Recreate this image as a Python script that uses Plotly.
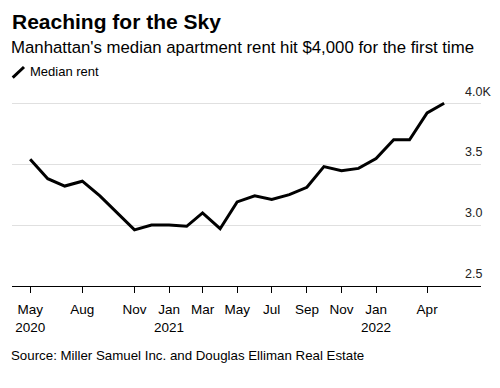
import plotly.graph_objects as go

# Data (monthly, first of month)
months = ["2020-05-01", "2020-06-01", "2020-07-01", "2020-08-01", "2020-09-01",
          "2020-10-01", "2020-11-01", "2020-12-01", "2021-01-01", "2021-02-01",
          "2021-03-01", "2021-04-01", "2021-05-01", "2021-06-01", "2021-07-01",
          "2021-08-01", "2021-09-01", "2021-10-01", "2021-11-01", "2021-12-01",
          "2022-01-01", "2022-02-01", "2022-03-01", "2022-04-01", "2022-05-01"]
median_rent_k = [3.54, 3.38, 3.32, 3.36, 3.24,
                 3.10, 2.96, 3.00, 3.00, 2.99,
                 3.10, 2.97, 3.19, 3.24, 3.21,
                 3.25, 3.31, 3.48, 3.445, 3.465,
                 3.545, 3.70, 3.70, 3.92, 4.00]

x_tick_vals = ["2020-05-01", "2020-08-01", "2020-11-01", "2021-01-01", "2021-03-01",
               "2021-05-01", "2021-07-01", "2021-09-01", "2021-11-01", "2022-01-01",
               "2022-04-01"]
x_tick_text = ["May<br>2020", "Aug", "Nov", "Jan<br>2021", "Mar", "May", "Jul",
               "Sep", "Nov", "Jan<br>2022", "Apr"]
y_tick_vals = [2.5, 3.0, 3.5, 4.0]
y_tick_text = ["2.5", "3.0", "3.5", "4.0K"]

FONT = "Liberation Sans, Arial, sans-serif"
# figure is drawn inside the page's 8px body margin
W, H = 492, 380
PL, PR, PT, PB = 4, 473, 83, 278
PW, PH = PR - PL, PB - PT


def px_x(x):
    return (x - PL) / PW


def px_y(y):
    return (PB - y) / PH


fig = go.Figure()
fig.add_trace(go.Scatter(
    x=months, y=median_rent_k, mode="lines", name="Median rent",
    line=dict(color="#000000", width=3),
    showlegend=False, hoverinfo="x+y"))

fig.update_layout(
    width=W, height=H,
    margin=dict(l=PL, r=W - PR, t=PT, b=H - PB, autoexpand=False),
    paper_bgcolor="white", plot_bgcolor="white",
    font=dict(family=FONT, color="#000000"),
    showlegend=False,
    title=dict(text="<b>Reaching for the Sky</b>", x=0, xref="paper", xanchor="left",
               y=1 - 14 / H, yref="container", yanchor="middle",
               font=dict(size=21, color="#000000", family=FONT)),
    xaxis=dict(type="date", range=["2020-03-30", "2022-07-05"], automargin=False,
               tickmode="array", tickvals=x_tick_vals, ticktext=x_tick_text,
               ticks="outside", ticklen=6, tickcolor="#000000", tickwidth=1,
               showline=True, linecolor="#000000", linewidth=1,
               showgrid=False, zeroline=False, ticklabelstandoff=5,
               tickfont=dict(size=13.5, color="#000000")),
    yaxis=dict(range=[2.5, 4.1], side="right", automargin=False,
               tickmode="array", tickvals=y_tick_vals, ticktext=y_tick_text,
               showgrid=True, gridcolor="#e0e0e0", gridwidth=1,
               zeroline=False, showline=False, ticks="",
               ticklabelposition="outside", ticklabelstandoff=-17, ticklabelshift=-12,
               tickfont=dict(size=12.5, color="#222222")),
    shapes=[
        # legend key: diagonal stroke
        dict(type="line", xref="paper", yref="paper",
             x0=px_x(4.7), y0=px_y(69.7), x1=px_x(16), y1=px_y(59),
             line=dict(color="#000000", width=3)),
    ],
    annotations=[
        dict(text="Manhattan's median apartment rent hit $4,000 for the first time",
             xref="paper", yref="paper", x=0, xanchor="left", xshift=-3,
             y=px_y(40), yanchor="middle", showarrow=False,
             font=dict(size=16.8, color="#000000", family=FONT)),
        dict(text="Median rent",
             xref="paper", yref="paper", x=px_x(23), xanchor="left", xshift=-3,
             y=px_y(64), yanchor="middle", showarrow=False,
             font=dict(size=13, color="#000000", family=FONT)),
        dict(text="Source: Miller Samuel Inc. and Douglas Elliman Real Estate",
             xref="paper", yref="paper", x=0, xanchor="left", xshift=-3,
             y=px_y(347), yanchor="middle", showarrow=False,
             font=dict(size=13.3, color="#000000", family=FONT)),
    ],
)

fig.write_html("out.html")
